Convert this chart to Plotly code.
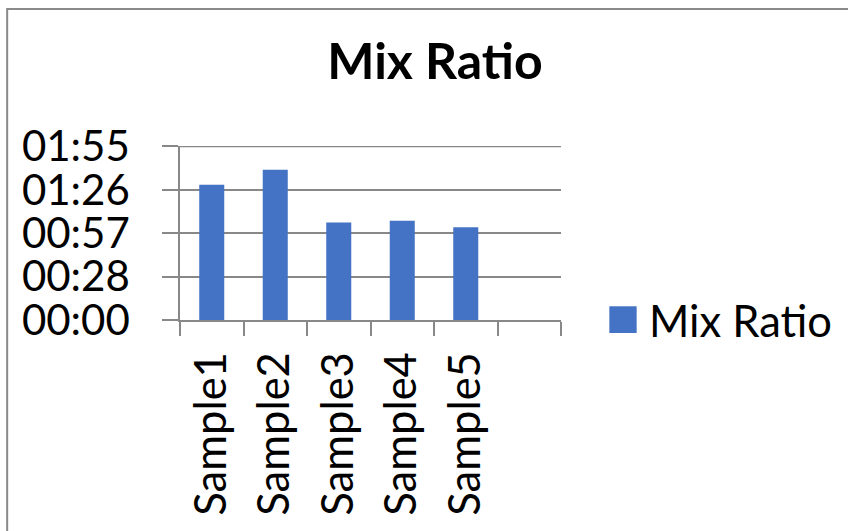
import plotly.graph_objects as go

# ---- data ----
categories = ["Sample1", "Sample2", "Sample3", "Sample4", "Sample5", " "]
mix_ratio_seconds = [89.6, 99.5, 64.6, 65.7, 61.5, None]
series_name = "Mix Ratio"
y_tick_seconds = [0, 28.75, 57.5, 86.25, 115]
y_tick_labels = ["00:00", "00:28", "00:57", "01:26", "01:55"]

W, H = 848, 531
L, R, T, B = 180, 287.3, 146, 211.3
pw = W - L - R
ph = H - T - B

def px(x):
    return (x - L) / pw

def py(y):
    return (H - B - y) / ph

FONT = "Lato"
GRID = "#888888"

fig = go.Figure()
fig.add_trace(go.Bar(
    x=categories, y=mix_ratio_seconds, name=series_name,
    marker=dict(color="#4472C4", line=dict(width=0)),
    showlegend=False,
))

fig.update_layout(
    width=W, height=H,
    margin=dict(l=L, r=R, t=T, b=B, pad=0),
    paper_bgcolor="white", plot_bgcolor="white",
    bargap=0.606,
    title=dict(text="<b>Mix Ratio</b>", x=435 / W, xref="container", xanchor="center",
               y=1 - 61 / H, yref="container", yanchor="middle",
               font=dict(family=FONT, size=50, color="black")),
    xaxis=dict(
        type="category", categoryorder="array", categoryarray=categories,
        range=[-0.5, len(categories) - 0.5],
        tickson="boundaries", ticks="outside", ticklen=14, tickwidth=1.5, tickcolor=GRID,
        showline=True, linecolor=GRID, linewidth=1.5,
        showgrid=False, tickangle=-90,
        ticklabelstandoff=13,
        tickfont=dict(family=FONT, size=43.5, color="black"),
    ),
    yaxis=dict(
        range=[0, 115.3], tickvals=y_tick_seconds, ticktext=y_tick_labels,
        ticks="outside", ticklen=16, tickwidth=1.5, tickcolor=GRID,
        showline=True, linecolor=GRID, linewidth=1.5,
        showgrid=True, gridcolor=GRID, gridwidth=1.5, zeroline=False,
        ticklabelstandoff=24,
        tickfont=dict(family=FONT, size=42, color="black"),
    ),
)

# top gridline (at the highest tick value, which plotly omits at the range edge)
fig.add_shape(type="line", xref="paper", yref="y",
              x0=0, x1=1, y0=y_tick_seconds[-1], y1=y_tick_seconds[-1],
              line=dict(color=GRID, width=1.5), layer="below")

# chart border (Excel chart area frame)
fig.add_shape(type="rect", xref="paper", yref="paper",
              x0=px(7.3), x1=px(900), y0=py(600), y1=py(9.3),
              line=dict(color="#8a8a8a", width=2), fillcolor="rgba(0,0,0,0)", layer="below")

# legend swatch + label
fig.add_shape(type="rect", xref="paper", yref="paper",
              x0=px(609), x1=px(636.3), y0=py(332.7), y1=py(306),
              line=dict(width=0), fillcolor="#4472C4")
fig.add_annotation(text=series_name, xref="paper", yref="paper",
                   x=px(647), y=py(320), xanchor="left", yanchor="middle",
                   showarrow=False, font=dict(family=FONT, size=43.5, color="black"))

fig.write_html("out.html")
